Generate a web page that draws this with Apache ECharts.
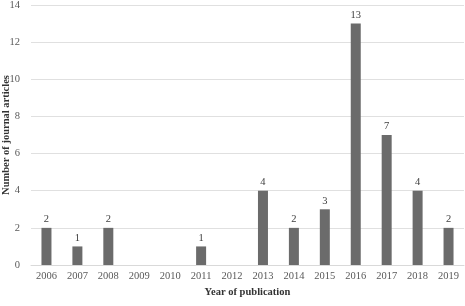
<!DOCTYPE html>
<html><head><meta charset="utf-8">
<script src="https://cdn.jsdelivr.net/npm/echarts@6/dist/echarts.min.js"></script>
<style>html,body{margin:0;padding:0;background:#fff}#c{width:465px;height:306px}</style>
</head><body><div id="c"></div>
<script>
var years = ['2006','2007','2008','2009','2010','2011','2012','2013','2014','2015','2016','2017','2018','2019'];
var articles = [2,1,2,0,0,1,0,4,2,3,13,7,4,2];
var labelShown = [true,true,true,false,false,true,false,true,true,true,true,true,true,true];
var font = '"Liberation Serif","Times New Roman",serif';
var chart = echarts.init(document.getElementById('c'));
chart.setOption({
  animation:false,
  grid:{left:31,right:1,top:5,bottom:41,containLabel:false,outerBoundsMode:'none'},
  xAxis:{type:'category',data:years,
    axisLine:{lineStyle:{color:'#d9d9d9'}},axisTick:{show:false},
    axisLabel:{color:'#595959',fontFamily:font,fontSize:10.5,margin:6},
    name:'Year of publication',nameLocation:'middle',nameGap:22,nameMoveOverlap:false,
    nameTextStyle:{fontFamily:font,fontWeight:'bold',fontSize:10.5,color:'#333'}},
  yAxis:{type:'value',min:0,max:14,interval:2,
    axisLine:{show:false},axisTick:{show:false},
    splitLine:{lineStyle:{color:'#e0e0e0'}},
    axisLabel:{color:'#595959',fontFamily:font,fontSize:10.5,margin:11},
    name:'Number of journal articles',nameLocation:'middle',nameGap:19,nameMoveOverlap:false,
    nameTextStyle:{fontFamily:font,fontWeight:'bold',fontSize:10.5,color:'#333'}},
  series:[{type:'bar',barWidth:10,
    data:articles.map(function(v,i){return {value:v,label:{show:labelShown[i]}};}),
    itemStyle:{color:'#6b6b6b'},
    label:{position:'top',distance:3,color:'#404040',fontFamily:font,fontSize:10.5}}]
});
</script></body></html>
